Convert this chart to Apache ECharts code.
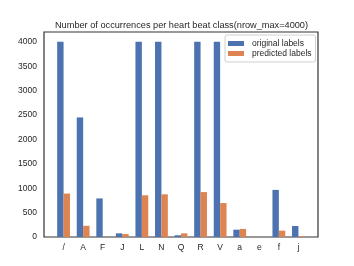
<!DOCTYPE html>
<html><head><meta charset="utf-8">
<script src="https://cdn.jsdelivr.net/npm/echarts@6/dist/echarts.min.js"></script>
<style>html,body{margin:0;padding:0;background:#fff}#c{width:354px;height:266px}</style>
</head><body><div id="c"></div>
<script>
const categories = ['/', 'A', 'F', 'J', 'L', 'N', 'Q', 'R', 'V', 'a', 'e', 'f', 'j'];
const originalLabels = [4000, 2450, 790, 75, 4000, 4000, 35, 4000, 4000, 150, 0, 965, 225];
const predictedLabels = [890, 230, 3, 60, 855, 875, 75, 920, 695, 165, 0, 130, 18];
const yTicks = [0, 500, 1000, 1500, 2000, 2500, 3000, 3500, 4000];

const font = 'Liberation Sans, Arial, sans-serif';
const chart = echarts.init(document.getElementById('c'), null, {renderer: 'canvas'});
chart.setOption({
  animation: false,
  backgroundColor: '#fff',
  title: {
    text: 'Number of occurrences per heart beat class(nrow_max=4000)',
    left: 181.5, top: 21, textAlign: 'center', padding: 0,
    textStyle: {fontFamily: font, fontSize: 9.2, fontWeight: 'normal', color: '#262626'}
  },
  legend: {
    orient: 'vertical', left: 225, top: 35,
    padding: [4, 4, 4, 3],
    itemWidth: 16, itemHeight: 5, itemGap: 1,
    borderColor: '#d0d0d0', borderWidth: 1, borderRadius: 2,
    textStyle: {fontFamily: font, fontSize: 8.5, color: '#262626', padding: [0, 0, 0, 3]},
    icon: 'rect',
    data: ['original labels', 'predicted labels']
  },
  grid: {left: 44, right: 36, top: 32, bottom: 29, show: true, borderColor: '#333', borderWidth: 1.2},
  xAxis: {
    type: 'value', min: -1, max: categories.length, interval: 1,
    axisLine: {show: false}, axisTick: {show: false}, splitLine: {show: false},
    axisLabel: {
      fontFamily: font, fontSize: 8.5, color: '#262626', margin: 6,
      formatter: v => (v >= 0 && v < categories.length) ? categories[v] : ''
    }
  },
  yAxis: {
    type: 'value', min: 0, max: 4200, interval: 500,
    axisLine: {show: false}, axisTick: {show: false}, splitLine: {show: false},
    axisLabel: {
      fontFamily: font, fontSize: 8.5, color: '#262626', margin: 7,
      formatter: v => yTicks.includes(v) ? String(v) : ''
    }
  },
  series: [
    {name: 'original labels', type: 'bar', barWidth: 6.4, barGap: '0%',
     itemStyle: {color: '#4C72B0'},
     data: originalLabels.map((v, i) => [i, v])},
    {name: 'predicted labels', type: 'bar', barWidth: 6.4, barGap: '0%',
     itemStyle: {color: '#DD8452'},
     data: predictedLabels.map((v, i) => [i, v])}
  ]
});
</script></body></html>
